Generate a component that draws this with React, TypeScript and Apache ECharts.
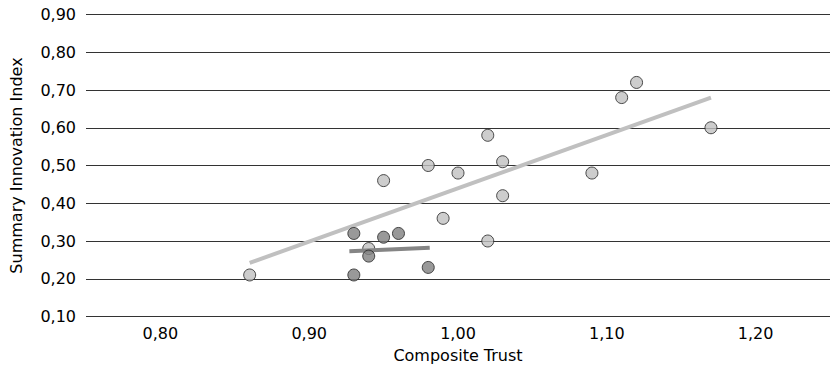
import React, { useEffect, useRef } from "react";
import * as echarts from "echarts";

const lightX = [0.86, 0.95, 0.94, 1.12, 1.11, 1.17, 1.02, 0.98, 1.0, 1.03, 1.09, 1.03, 0.99, 1.02];
const lightY = [0.21, 0.46, 0.28, 0.72, 0.68, 0.6, 0.58, 0.5, 0.48, 0.51, 0.48, 0.42, 0.36, 0.3];
const darkX = [0.93, 0.95, 0.96, 0.94, 0.93, 0.98];
const darkY = [0.32, 0.31, 0.32, 0.26, 0.21, 0.23];
const lightTrendX = [0.86, 1.17];
const lightTrendY = [0.242, 0.68];
const darkTrendX = [0.927, 0.981];
const darkTrendY = [0.273, 0.282];

const fmt = (v: number) => v.toFixed(2).replace(".", ",");
const zip = (xs: number[], ys: number[]) => xs.map((x, i) => [x, ys[i]]);

export default function App() {
  const ref = useRef<HTMLDivElement>(null);
  useEffect(() => {
    if (!ref.current) return;
    const chart = echarts.init(ref.current, undefined, { renderer: "svg" });
    const font = "'DejaVu Sans', sans-serif";
    chart.setOption({
      animation: false,
      grid: { left: 77, right: -3, top: 14.5, bottom: 53.5 },
      xAxis: {
        type: "value",
        min: 0.75,
        max: 1.25,
        interval: 0.05,
        name: "Composite Trust",
        nameLocation: "middle",
        nameGap: 31,
        nameTextStyle: { color: "#000", fontSize: 16, fontFamily: font },
        axisLine: { show: false },
        axisTick: { show: false },
        splitLine: { show: false },
        axisLabel: {
          color: "#000",
          fontSize: 16,
          fontFamily: font,
          margin: 9,
          showMinLabel: false,
          showMaxLabel: false,
          formatter: (v: number) => (Math.round(v * 100) % 10 === 0 ? fmt(v) : ""),
        },
      },
      yAxis: {
        type: "value",
        min: 0.1,
        max: 0.9,
        interval: 0.1,
        name: "Summary Innovation Index",
        nameLocation: "middle",
        nameGap: 62,
        nameRotate: 90,
        nameTextStyle: { color: "#000", fontSize: 16, fontFamily: font },
        axisLine: { show: false },
        axisTick: { show: false },
        splitLine: { show: true, lineStyle: { color: "#333", width: 1 } },
        axisLabel: { color: "#000", fontSize: 16, fontFamily: font, margin: 10, formatter: fmt },
      },
      series: [
        {
          type: "scatter",
          data: zip(lightX, lightY),
          symbolSize: 12,
          itemStyle: { color: "#c0c0c0", borderColor: "#222", borderWidth: 1 },
          z: 2,
        },
        {
          type: "line",
          data: zip(lightTrendX, lightTrendY),
          showSymbol: false,
          symbol: "none",
          lineStyle: { color: "#c0c0c0", width: 4 },
          z: 3,
        },
        {
          type: "line",
          data: zip(darkTrendX, darkTrendY),
          showSymbol: false,
          symbol: "none",
          lineStyle: { color: "#858585", width: 4 },
          z: 4,
        },
        {
          type: "scatter",
          data: zip(darkX, darkY),
          symbolSize: 12,
          itemStyle: { color: "#808080", borderColor: "#222", borderWidth: 1 },
          z: 5,
        },
      ],
    });
    return () => chart.dispose();
  }, []);
  return <div ref={ref} style={{ width: 830, height: 370, position: "absolute", left: 0, top: 0 }} />;
}
